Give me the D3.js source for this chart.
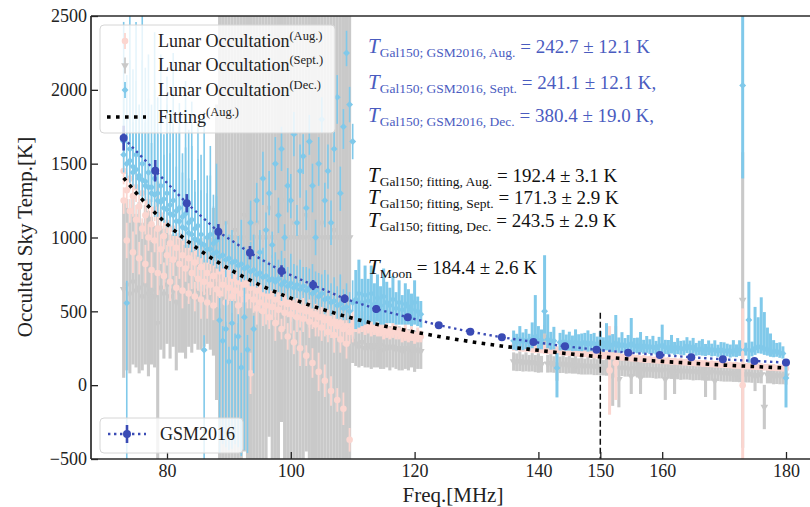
<!DOCTYPE html>
<html><head><meta charset="utf-8">
<script src="https://cdn.jsdelivr.net/npm/d3@7/dist/d3.min.js"></script>
<style>
body{margin:0;background:#fff;}
svg{display:block;}
svg text{font-family:'Liberation Serif','DejaVu Serif',serif;}
</style>
</head><body><div id="chart"></div>
<script>
// ---------------- DATA ----------------
const xTicks = [80, 100, 120, 140, 150, 160, 180];
const yTicks = [-500, 0, 500, 1000, 1500, 2000, 2500];

const freqLow = [73,73.5,74,74.5,75,75.5,76,76.5,77,77.5,78,78.5,79,79.5,80,80.5,81,81.5,82,82.5,83,83.5,84,84.5,85,85.5,86,86.5,87,87.5,88,
  88.5,89,89.5,90,90.5,91,91.5,92,92.5,93,93.5,94,94.5,95,95.5,96,96.5,97,97.5,98,98.5,99,99.5,100,100.5,101,101.5,102,102.5,103,103.5,104,104.5,105,105.5,106,106.5,107,107.5,108,108.5,109,109.5,110];
const freqMid = [110.5,111,111.5,112,112.5,113,113.5,114,114.5,115,115.5,116,116.5,117,117.5,118,118.5,119,119.5,120,120.5,121];
const freqHigh = [136,136.5,137,137.5,138,138.5,139,139.5,140,140.5,141,141.5,142,142.5,143,143.5,144,144.5,145,145.5,146,146.5,147,147.5,148,148.5,149,149.5,150,150.5,
  151,151.5,152,152.5,153,153.5,154,154.5,155,155.5,156,156.5,157,157.5,158,158.5,159,159.5,160,160.5,161,161.5,162,162.5,163,163.5,164,164.5,165,165.5,
  166,166.5,167,167.5,168,168.5,169,169.5,170,170.5,171,171.5,172,172.5,173,173.5,174,174.5,175,175.5,176,176.5,177,177.5,178,178.5,179,179.5,180];

// Lunar occultation, Sept. (grey)
const septLowVal = [650,680,620,700,640,660,600,680,620,640,600,420,660,620,680,600,640,560,620,600,580,620,600,640,580,620,600,640,620,700,900,
  1000,1000,1100,1000,1000,1050,1000,1000,1150,1000,1000,1000,1100,1000,1000,1000,1200,1000,1000,1000,1250,1000,1000,1000,1100,1000,1000,1000,1150,1000,1000,1000,1000,1100,1000,1000,1000,1050,1000,1000,1000,1000,1000,
  300];
const septLowErr = [600,580,540,560,520,580,500,540,560,500,480,960,420,440,400,420,380,460,400,380,400,360,380,360,340,380,340,360,380,500,1000,
  1800,1800,1650,1800,1800,1700,1800,1800,1600,1800,1800,1800,1650,1800,1800,1800,1550,1800,1800,1800,1500,1800,1800,1800,1650,1800,1800,1800,1600,1800,1800,1800,1800,1650,1800,1800,1800,1700,1800,1800,1800,1800,1800,
  150];
const septMidVal = [280,260,290,250,270,250,270,250,270,240,260,250,260,240,250,230,250,240,250,230,240,230];
const septMidErr = [150,140,160,130,150,140,150,130,160,130,140,150,140,130,150,130,140,140,130,140,130,120];
const septHighVal = [160,155,162,150,158,148,155,146,150,142, 327,145,150,140,120,138,145,134,140,132, 138,128,134,126,132,124,130,122,128,118,
  124,118,60,120,40,116,118,112,60,114, 110,50,110,104,108,102,106,100,104,40, 102,96,60,94,98,92,96,90,94,88,
  92,86,40,84,88,30,86,80,84,78, 82,76,80,74,577,72,76,70,60,68, 72,-148,70,66,68,62,66,60,64];
const septHighErr = [62,60,66,58,64,56,62,58,66,56, 80,60,64,56,90,56,62,56,60,54, 60,54,62,54,60,52,62,54,60,52,
  60,54,200,56,190,54,60,54,120,54, 58,110,60,54,58,54,62,54,58,140, 58,54,120,54,62,54,58,54,62,54,
  58,54,120,54,58,130,58,54,60,54, 58,54,58,54,1000,54,58,54,100,54, 60,150,58,54,62,54,60,54,60];

// Lunar occultation, Aug. (pink)
const augLowA = [1250,1320,1180,1280,1120,1210,1060,1150,1000,1090,980,1060,920,1010,880,960,850,930,820,880,790,860,760,830,720,800,700,760,680,740,650,
  770,680,750,660,720,640,700,620,680,600,660,580,640,560,620,540,600,530,580,510,560,490,550,480,530,460,510,450,500,430,480,410,460,390,440,360,420,340,400,310,380,280,360,
  380];
const augLowB = [1450,980,1400,900,1340,860,1300,820,1240,780,1190,760,1150,740,1100,700,1060,660,1010,640,970,620,930,600,900,580,870,560,840,540,820,
  620,790,560,770,600,750,540,720,580,700,80,680,520,660,500,640,460,620,420,600,380,580,330,560,290,540,250,520,200,500,150,480,90,460,30,450,-40,430,-100,420,-160,400,-370,
  420];
const augLowErr = [90,120,80,140,100,110,70,130,90,120,80,150,100,90,70,130,110,80,100,120,90,70,110,100,80,130,90,110,70,100,120,
  100,80,130,90,110,70,120,90,100,80,140,90,110,70,100,130,80,90,120,100,70,110,90,130,80,100,120,90,70,110,100,80,130,90,110,70,100,120,80,90,110,100,80,
  90];
const augMidVal = [420,400,430,390,410,380,400,370,390,360,380,350,370,360,350,340,360,330,350,320,340,330];
const augMidErr = [60,50,70,50,60,50,60,40,60,50,60,40,50,50,40,50,60,40,50,40,50,40];
const augHighVal = [262,256,259,252,254,248,250,244,246,240, 242,236,238,232,234,228,230,224,226,220, 222,216,218,212,214,208,210,204,206,200,
  202,100,198,150,194,189,190,185,186,181, 182,177,178,173,174,170,171,167,168,164, 165,161,162,158,159,155,156,152,153,149,
  150,146,147,143,144,141,142,138,139,136, 137,133,134,131,0,129,130,126,127,124, 125,121,122,119,120,116,117,114,115];
const augHighErr = [28,24,30,26,28,24,30,26,28,24, 30,26,28,24,30,26,28,24,28,24, 26,24,28,22,26,24,28,22,26,24,
  26,300,24,250,26,22,24,22,26,22, 24,22,26,20,24,22,24,20,24,22, 24,20,22,20,24,20,22,20,22,20,
  22,20,22,20,22,20,22,20,22,20, 22,20,22,20,520,20,22,20,22,20, 22,20,22,20,22,20,22,20,22];

// Lunar occultation, Dec. (light blue)
const decLow1Val = [1560,1500,1520,1440,1460,1400,1390,1350,1340,1300,1290,1250,1240,1200,1190,1160,1150,1110,1110,1070,1060,1030,1020,990,980,960,950,920,920,890,900,
  870,880,850,860,830,840,810,820,790,800,770,780,750,760,730,740,710,720,700,720,680,700,670,690,660,680,650,670,640,660,620,640,600,620,580,590,560,570,540,550,520,530,500,
  560];
const decLow1Dn = [120,100,150,90,130,110,140,100,120,90,150,110,130,100,120,90,140,100,110,90,130,100,120,80,110,100,120,90,100,80,110,
  100,90,120,80,110,90,100,120,80,90,100,110,90,80,100,120,90,80,100,90,110,80,90,100,80,90,100,80,90,80,100,90,80,90,100,80,90,80,90,100,80,90,80,
  60];
const decLow1Up = [900,600,1100,700,1000,500,1200,800,900,600,1100,700,1000,500,900,700,1100,600,800,500,1000,700,900,400,800,600,900,500,700,400,600,
  200,140,260,160,220,130,200,300,150,120,200,240,130,160,200,260,130,160,200,130,230,160,130,200,160,130,200,130,160,130,200,130,160,130,200,160,130,160,130,200,130,160,130,
  150];
const decLow2Val = [1650,557,1600,1480,1560,1420,1500,1380,1440,1340,1400,1300,1350,1260,1300,1220,1250,1180,1200,1140,1160,1100,1120,1060,1080,1020,238,1000,1020,960,980,
  440,300,380,160,420,250,330,120,460,240,1100,380,1250,900,1400,1050,1300,950,1500,1150,1600,1000,1350,1250,1700,1100,1450,1550,1200,1650,1350,1000,1500,1800,1250,1450,1100,1600,1950,1300,1750,2250,1900,
  1650];
const decLow2Dn = [100,1100,120,90,110,100,130,90,110,100,120,90,110,100,120,90,110,100,120,90,110,100,120,90,110,100,800,90,110,100,120,
  900,700,800,600,850,650,750,600,900,700,120,300,150,90,180,120,150,90,180,120,150,90,180,120,150,90,180,120,150,90,180,120,150,90,180,120,150,90,180,120,150,90,120,
  120];
const decLow2Up = [400,150,600,300,500,300,700,400,500,300,600,400,500,300,600,350,500,300,550,300,450,300,500,250,450,300,100,300,400,250,300,
  150,100,200,100,150,100,150,100,200,100,150,90,120,150,180,120,150,90,180,120,150,90,120,180,150,120,180,150,120,180,150,120,180,150,120,180,150,120,150,180,120,150,120,
  120];
const decMidVal = [580,620,560,610,570,620,550,590,540,600,560,540,580,520,560,510,550,530,510,560,500,480];
const decMidErr = [200,230,160,200,150,190,140,160,130,190,140,120,160,110,150,100,140,120,110,150,100,90];
const decHighVal = [300,290,310,295,305,290,315,330,300,305, 500,310,295,300,117,290,295,285,290,280, 290,285,280,290,275,285,280,275,285,270,
  290,275,270,285,265,275,265,270,280,265, 260,270,255,265,255,260,250,265,270,255, 250,260,245,255,250,245,265,250,260,240,
  245,240,235,245,235,240,230,240,230,235, 225,235,230,240,2030,240,442,235,250,260, 255,245,240,230,225,230,220,215,49];
const decHighDn = [60,55,62,58,60,55,65,60,58,62, 150,60,55,58,200,55,58,52,56,50, 58,54,50,56,48,55,52,48,55,46,
  55,50,46,55,45,50,46,48,52,45, 44,48,42,46,44,45,42,48,50,44, 42,46,40,45,44,42,48,44,46,40,
  42,40,38,42,40,42,38,42,40,40, 38,42,40,42,630,40,290,40,45,44, 42,40,40,38,36,38,35,35,200];
const decHighUp = [70,58,90,62,75,58,110,280,100,72, 380,170,66,95,100,64,80,58,72,56, 88,60,70,64,96,62,74,54,80,54,
  130,62,76,190,58,84,54,70,175,55, 62,90,52,68,56,74,50,62,140,52, 56,80,48,64,50,58,60,52,60,46,
  56,72,44,58,46,64,44,52,60,46, 50,70,46,64,600,48,258,60,280,200, 340,250,150,120,80,56,70,48,120];

// Power-law fit (Aug.)
const fitFreq = [73,75,80,85,90,95,100,105,110,115,120,125,130,135,140,145,150,155,160,165,170,175,180];
const fitTemp = [1404,1303,1091,923,788,679,589,515,453,402,360,322,289,260,236,212,192,176,161,148,136,126,116];

// GSM2016 model
const gsmFreq = [73,78.1,83.2,88.3,93.4,98.5,103.6,108.7,113.8,118.9,123.9,129,134.1,139.2,144.3,149.4,154.5,159.6,164.7,169.8,174.9,180];
const gsmTemp = [1673,1452,1232,1039,897,773,678,586,516,460,406,362,324,293,263,240,220,205,189,175,164,153];
const gsmErr  = [84,73,62,52,45,39,34,29,26,23,20,18,16,15,13,12,11,10,9,9,8,8];

// 150 MHz reference marker
const refFreq = [150];
const refTop = [490];

// Texts
const legendLabels = ['Lunar Occultation', 'Lunar Occultation', 'Lunar Occultation', 'Fitting'];
const legendSups = ['(Aug.)', '(Sept.)', '(Dec.)', '(Aug.)'];
const gsmLabel = 'GSM2016';
const annoGsmSubs = ['Gal150; GSM2016, Aug.', 'Gal150; GSM2016, Sept.', 'Gal150; GSM2016, Dec.'];
const annoGsmVals = ['= 242.7 ± 12.1 K', '= 241.1 ± 12.1 K,', '= 380.4 ± 19.0 K,'];
const annoFitSubs = ['Gal150; fitting, Aug.', 'Gal150; fitting, Sept.', 'Gal150; fitting, Dec.', 'Moon'];
const annoFitVals = ['= 192.4 ± 3.1 K', '= 171.3 ± 2.9 K', '= 243.5 ± 2.9 K', '= 184.4 ± 2.6 K'];

// ---------------- CHART ----------------
const W = 810, H = 507;
const L = 91, R = 810, T = 16, B = 459;
const FONT = "'Liberation Serif','DejaVu Serif',serif";
const C = {sept: '#c9c9c9', aug: '#fbd6d0', dec: '#80c9ea', gsm: '#3a4bb5', txt: '#4a5cbf'};

const svg = d3.select('#chart').append('svg').attr('width', W).attr('height', H)
  .attr('font-family', FONT);

const x = d3.scaleLinear().domain([80, 180]).range([167, 786]);
const y = d3.scaleLinear().domain([-500, 2500]).range([B, T]);

svg.append('defs').append('clipPath').attr('id', 'clip')
  .append('rect').attr('x', L).attr('y', T).attr('width', R - L).attr('height', B - T);

const plot = svg.append('g').attr('clip-path', 'url(#clip)');

function rows(fr, v, dn, up, w) {
  return fr.map((f, i) => ({f, v: v[i], lo: v[i] - dn[i], hi: v[i] + (up ? up[i] : dn[i]), w}));
}
const sept = [].concat(rows(freqLow, septLowVal, septLowErr, null, 3.1),
  rows(freqMid, septMidVal, septMidErr, null, 3.1),
  rows(freqHigh, septHighVal, septHighErr, null, 3.1));
const aug = [].concat(rows(freqLow, augLowA, augLowErr, null, 1.8),
  rows(freqLow, augLowB, augLowErr, null, 1.8),
  rows(freqMid, augMidVal, augMidErr, null, 3),
  rows(freqHigh, augHighVal, augHighErr, null, 3));
const dec = [].concat(rows(freqLow, decLow1Val, decLow1Dn, decLow1Up, 1.6),
  rows(freqLow, decLow2Val, decLow2Dn, decLow2Up, 1.6),
  rows(freqMid, decMidVal, decMidErr, null, 3),
  rows(freqHigh, decHighVal, decHighDn, decHighUp, 3));

const symTri = d3.symbol().type(d3.symbolTriangle).size(26)();
const symCirc = d3.symbol().type(d3.symbolCircle).size(34)();
const symDia = d3.symbol().type(d3.symbolSquare).size(24)();

function drawSeries(data, color, sym, rot) {
  const g = plot.append('g');
  g.selectAll('line').data(data).join('line')
    .attr('x1', d => x(d.f)).attr('x2', d => x(d.f))
    .attr('y1', d => y(d.lo)).attr('y2', d => y(d.hi))
    .attr('stroke', color).attr('stroke-width', d => d.w);
  g.selectAll('path').data(data).join('path')
    .attr('d', sym)
    .attr('transform', d => `translate(${x(d.f)},${y(d.v)}) rotate(${rot})`)
    .attr('fill', color);
}
drawSeries(sept, C.sept, symTri, 180);
drawSeries(aug, C.aug, symCirc, 0);
drawSeries(dec, C.dec, symDia, 45);

// 150 MHz dashed marker
plot.selectAll('.ref').data(refFreq).join('line').attr('class', 'ref')
  .attr('x1', d => x(d)).attr('x2', d => x(d))
  .attr('y1', (d, i) => y(refTop[i])).attr('y2', y(-500))
  .attr('stroke', '#111').attr('stroke-width', 1.5).attr('stroke-dasharray', '6,3');

// fit line
plot.append('path')
  .datum(fitFreq.map((f, i) => [f, fitTemp[i]]))
  .attr('d', d3.line().x(d => x(d[0])).y(d => y(d[1])).curve(d3.curveMonotoneX))
  .attr('fill', 'none').attr('stroke', '#000').attr('stroke-width', 3.6)
  .attr('stroke-dasharray', '3.6,5.4');

// GSM model
const gsm = gsmFreq.map((f, i) => ({f, v: gsmTemp[i], e: gsmErr[i]}));
plot.append('path').datum(gsm)
  .attr('d', d3.line().x(d => x(d.f)).y(d => y(d.v)))
  .attr('fill', 'none').attr('stroke', C.gsm).attr('stroke-width', 2.4)
  .attr('stroke-dasharray', '2.4,3.6');
plot.selectAll('.gsmerr').data(gsm).join('line').attr('class', 'gsmerr')
  .attr('x1', d => x(d.f)).attr('x2', d => x(d.f))
  .attr('y1', d => y(d.v - d.e)).attr('y2', d => y(d.v + d.e))
  .attr('stroke', C.gsm).attr('stroke-width', 2.6);
plot.selectAll('.gsmpt').data(gsm).join('circle').attr('class', 'gsmpt')
  .attr('cx', d => x(d.f)).attr('cy', d => y(d.v)).attr('r', 4)
  .attr('fill', C.gsm);

// axes
const fmt = d3.format('d');
const axY = svg.append('g').attr('transform', `translate(${L},0)`)
  .call(d3.axisLeft(y).tickValues(yTicks).tickFormat(fmt).tickSize(-7).tickSizeOuter(0).tickPadding(4));
const axX = svg.append('g').attr('transform', `translate(0,${B})`)
  .call(d3.axisBottom(x).tickValues(xTicks).tickFormat(fmt).tickSize(-7).tickSizeOuter(0).tickPadding(5));
[axY, axX].forEach(a => {
  a.attr('font-family', FONT);
  a.select('.domain').remove();
  a.selectAll('.tick line').attr('stroke', '#222').attr('stroke-width', 1.3);
  a.selectAll('.tick text').attr('fill', '#222').attr('font-size', 18);
});

// spines
const sp = svg.append('g').attr('stroke', '#2a2a2a').attr('stroke-width', 1.7).attr('fill', 'none');
sp.append('line').attr('x1', L).attr('x2', L).attr('y1', T).attr('y2', B);
sp.append('line').attr('x1', L).attr('x2', R).attr('y1', B).attr('y2', B);
sp.append('line').attr('x1', L).attr('x2', R).attr('y1', T).attr('y2', T);

// axis labels
svg.append('text').attr('transform', `translate(32,237) rotate(-90)`)
  .attr('text-anchor', 'middle').attr('font-size', 21).attr('fill', '#222')
  .text('Occulted Sky Temp.[K]');
svg.append('text').attr('x', 453).attr('y', 502)
  .attr('text-anchor', 'middle').attr('font-size', 21).attr('fill', '#222')
  .text('Freq.[MHz]');

// annotations
function anno(xp, yp, sub, val, color) {
  const t = svg.append('text').attr('x', xp).attr('y', yp).attr('fill', color);
  t.append('tspan').text('T').attr('font-style', 'italic').attr('font-size', 21);
  t.append('tspan').text(sub).attr('font-size', 13.5).attr('dy', 4);
  t.append('tspan').text('\u00a0' + val).attr('font-size', 19).attr('dy', -4);
}
const gsmRowsY = [53, 89, 122];
annoGsmSubs.forEach((s, i) => anno(368, gsmRowsY[i], s, annoGsmVals[i], C.txt));
const fitRowsY = [182, 204, 227, 274];
annoFitSubs.forEach((s, i) => anno(368, fitRowsY[i], s, annoFitVals[i], '#111'));

// legend 1
const lg = svg.append('g');
lg.append('rect').attr('x', 100).attr('y', 25).attr('width', 235).attr('height', 108).attr('rx', 4)
  .attr('fill', 'rgba(255,255,255,0.8)').attr('stroke', '#d6d6d6').attr('stroke-width', 1);
const legY = [41, 65.5, 90, 117];
const legSym = [[C.aug, symCirc, 0], [C.sept, symTri, 180], [C.dec, symDia, 45]];
legSym.forEach((s, i) => {
  lg.append('line').attr('x1', 125).attr('x2', 125).attr('y1', legY[i] - 8).attr('y2', legY[i] + 8)
    .attr('stroke', s[0]).attr('stroke-width', 1.8);
  lg.append('path').attr('d', s[1]).attr('transform', `translate(125,${legY[i]}) rotate(${s[2]})`).attr('fill', s[0]);
});
lg.append('line').attr('x1', 107).attr('x2', 146).attr('y1', legY[3]).attr('y2', legY[3])
  .attr('stroke', '#000').attr('stroke-width', 3.6).attr('stroke-dasharray', '3.6,5.4');
legendLabels.forEach((lab, i) => {
  const t = lg.append('text').attr('x', 158).attr('y', legY[i] + 5.5).attr('fill', '#222');
  t.append('tspan').text(lab).attr('font-size', 18);
  t.append('tspan').text(legendSups[i]).attr('font-size', 12.5).attr('dy', -7);
});

// legend 2
const lg2 = svg.append('g');
lg2.append('rect').attr('x', 100).attr('y', 418).attr('width', 143).attr('height', 35).attr('rx', 4)
  .attr('fill', 'rgba(255,255,255,0.8)').attr('stroke', '#d6d6d6').attr('stroke-width', 1);
lg2.append('line').attr('x1', 108).attr('x2', 146).attr('y1', 434).attr('y2', 434)
  .attr('stroke', C.gsm).attr('stroke-width', 2.4).attr('stroke-dasharray', '2.4,3.6');
lg2.append('line').attr('x1', 127).attr('x2', 127).attr('y1', 425).attr('y2', 443)
  .attr('stroke', C.gsm).attr('stroke-width', 2.6);
lg2.append('circle').attr('cx', 127).attr('cy', 434).attr('r', 4).attr('fill', C.gsm);
lg2.append('text').attr('x', 160).attr('y', 440).attr('fill', '#222').attr('font-size', 18).text(gsmLabel);
</script>
</body></html>
